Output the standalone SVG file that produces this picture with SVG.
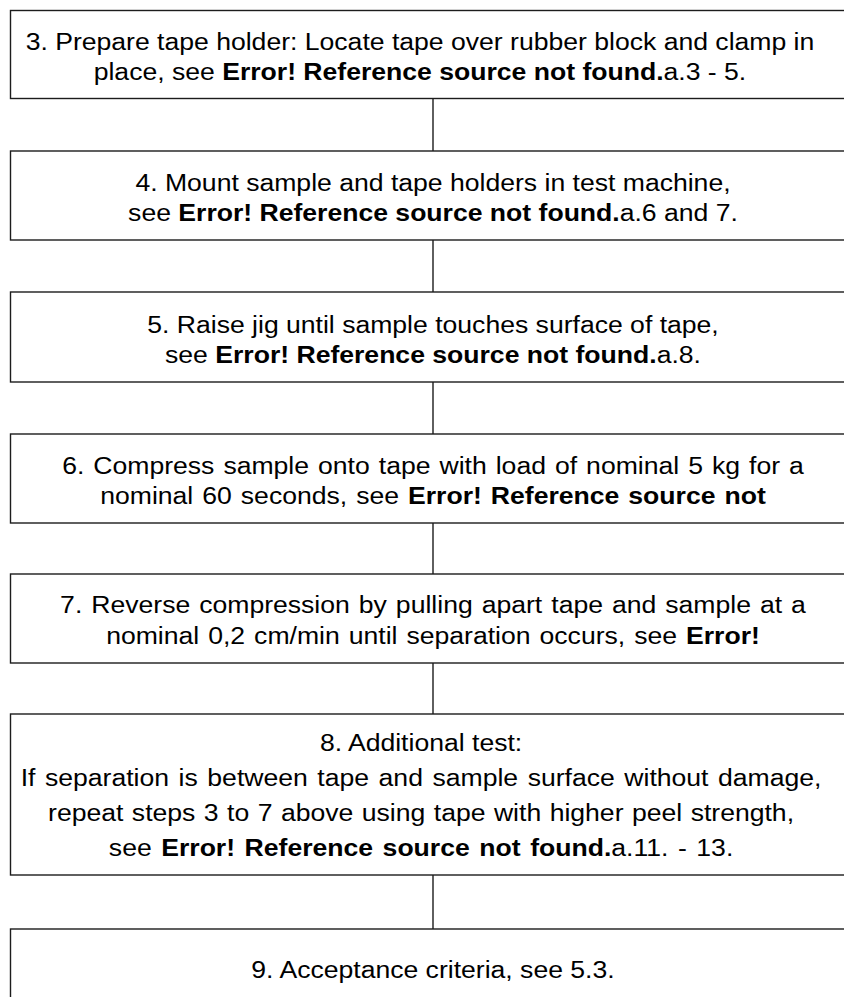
<svg xmlns="http://www.w3.org/2000/svg" width="844" height="997" viewBox="0 0 844 997">
  <style>
    .box { fill: #ffffff; stroke: #1c1c1c; stroke-width: 1.4; }
    .t { font-family: "Liberation Sans", Arial, sans-serif; font-size: 24.5px; fill: #000000; text-anchor: middle; }
    .b { font-weight: bold; }
    .conn line { stroke: #1c1c1c; stroke-width: 1.4; }
  </style>
  <rect x="0" y="0" width="844" height="997" fill="#ffffff"/>

  <!-- connectors between consecutive steps -->
  <g id="connectors" class="conn">
    <line x1="433" y1="98" x2="433" y2="151"/>
    <line x1="433" y1="240" x2="433" y2="292"/>
    <line x1="433" y1="382" x2="433" y2="434"/>
    <line x1="433" y1="523" x2="433" y2="574"/>
    <line x1="433" y1="663" x2="433" y2="714"/>
    <line x1="433" y1="875" x2="433" y2="929"/>
  </g>

  <!-- step boxes; labels are slightly widened horizontally (x' = 1.085x - 36.805) -->
  <g id="step3">
    <rect class="box" x="10.5" y="10.5" width="850" height="88"/>
    <g transform="matrix(1.085 0 0 1 -36.805 0)">
      <text class="t" x="421" y="50">3. Prepare tape holder: Locate tape over rubber block and clamp in</text>
      <text class="t" x="421" y="80">place, see <tspan class="b">Error! Reference source not found.</tspan>a.3 - 5.</text>
    </g>
  </g>

  <g id="step4">
    <rect class="box" x="10.5" y="151" width="850" height="89"/>
    <g transform="matrix(1.085 0 0 1 -36.805 0)">
      <text class="t" x="433" y="191">4. Mount sample and tape holders in test machine,</text>
      <text class="t" x="433" y="221">see <tspan class="b">Error! Reference source not found.</tspan>a.6 and 7.</text>
    </g>
  </g>

  <g id="step5">
    <rect class="box" x="10.5" y="292" width="850" height="90"/>
    <g transform="matrix(1.085 0 0 1 -36.805 0)">
      <text class="t" x="433" y="333">5. Raise jig until sample touches surface of tape,</text>
      <text class="t" x="433" y="363">see <tspan class="b">Error! Reference source not found.</tspan>a.8.</text>
    </g>
  </g>

  <g id="step6">
    <rect class="box" x="10.5" y="434" width="850" height="89"/>
    <g transform="matrix(1.085 0 0 1 -36.805 0)">
      <text class="t" x="433" y="474" style="word-spacing:1.5px">6. Compress sample onto tape with load of nominal 5 kg for a</text>
      <text class="t" x="433" y="504" style="word-spacing:1.5px">nominal 60 seconds, see <tspan class="b">Error! Reference source not</tspan></text>
    </g>
  </g>

  <g id="step7">
    <rect class="box" x="10.5" y="574" width="850" height="89"/>
    <g transform="matrix(1.085 0 0 1 -36.805 0)">
      <text class="t" x="433" y="613" style="word-spacing:1.5px">7. Reverse compression by pulling apart tape and sample at a</text>
      <text class="t" x="433" y="644" style="word-spacing:1.5px">nominal 0,2 cm/min until separation occurs, see <tspan class="b">Error!</tspan></text>
    </g>
  </g>

  <g id="step8">
    <rect class="box" x="10.5" y="714" width="850" height="161"/>
    <g transform="matrix(1.085 0 0 1 -36.805 0)">
      <text class="t" x="422" y="751">8. Additional test:</text>
      <text class="t" x="422" y="786" style="word-spacing:2px">If separation is between tape and sample surface without damage,</text>
      <text class="t" x="422" y="821" style="word-spacing:1px">repeat steps 3 to 7 above using tape with higher peel strength,</text>
      <text class="t" x="422" y="856" style="word-spacing:2px">see <tspan class="b">Error! Reference source not found.</tspan>a.11. - 13.</text>
    </g>
  </g>

  <g id="step9">
    <rect class="box" x="10.5" y="929" width="850" height="100"/>
    <g transform="matrix(1.085 0 0 1 -36.805 0)">
      <text class="t" x="433" y="978">9. Acceptance criteria, see 5.3.</text>
    </g>
  </g>
</svg>
